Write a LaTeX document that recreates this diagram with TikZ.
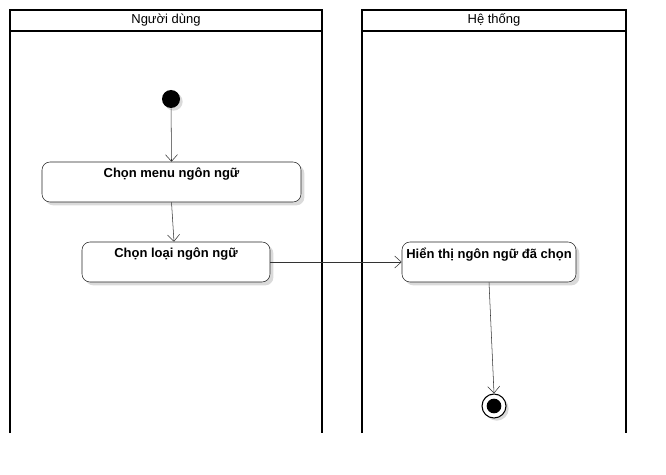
\documentclass[tikz,border=0pt]{standalone}
\usepackage{fontspec}
\setmainfont{Liberation Sans}
\usetikzlibrary{arrows.meta,shadows}
\definecolor{lline}{HTML}{333333}
\definecolor{lshadow}{HTML}{DADADA}

\begin{document}
\begin{tikzpicture}[x=0.75pt,y=-0.75pt,
    lane/.style={draw=black, line width=1.4pt},
    lanetitle/.style={font=\fontsize{9.75}{11}\selectfont, inner sep=0pt},
    action/.style={draw=black!85, rounded corners=6pt, fill=white, inner sep=0pt,
        minimum height=30pt,
        drop shadow={shadow xshift=2.5pt, shadow yshift=-2.5pt, fill=lshadow, opacity=1}},
    actlabel/.style={font=\bfseries\fontsize{9.75}{11}\selectfont, inner sep=0pt, anchor=north},
    flow/.style={draw=lline, -{Straight Barb[length=5pt,width=9pt]}}]
    \useasboundingbox (0,0) rectangle (666,474);

    % swimlanes
    \draw[lane] (10,433) -- (10,10) -- (322,10) -- (322,433);
    \draw[lane] (10,31) -- (322,31);
    \node[lanetitle] (user) at (166,20) {Người dùng};
    \draw[lane] (362,433) -- (362,10) -- (626,10) -- (626,433);
    \draw[lane] (362,31) -- (626,31);
    \node[lanetitle] (system) at (494,20) {Hệ thống};

    % nodes
    \node[circle, fill=black, minimum size=13.5pt, inner sep=0pt,
        drop shadow={shadow xshift=2pt, shadow yshift=-2pt, fill=lshadow, opacity=1}] (start) at (171,99) {};
    \node[action, minimum width=194.25pt,
        label={[actlabel, yshift=-4.5pt]north:Chọn menu ngôn ngữ}] (menu) at (171.5,182) {};
    \node[action, minimum width=141pt,
        label={[actlabel, yshift=-4.5pt]north:Chọn loại ngôn ngữ}] (choose) at (176,262) {};
    \node[action, minimum width=130.5pt,
        label={[actlabel, yshift=-4.5pt]north:Hiển thị ngôn ngữ đã chọn}] (show) at (489,262) {};
    \node[circle, draw=black, fill=white, line width=0.8pt, minimum size=18pt, inner sep=0pt,
        drop shadow={shadow xshift=2pt, shadow yshift=-2pt, fill=lshadow, opacity=1},
        path picture={\fill[black] (path picture bounding box.center) circle (5.5pt);}] (end) at (494,406) {};

    % transitions
    \draw[flow] (start) -- (menu.north);
    \draw[flow] (menu.south) -- ([xshift=-1.5pt]choose.north);
    \draw[flow] (choose.east) -- (show.west);
    \draw[flow] (show.south) -- (end.north);
\end{tikzpicture}
\end{document}
